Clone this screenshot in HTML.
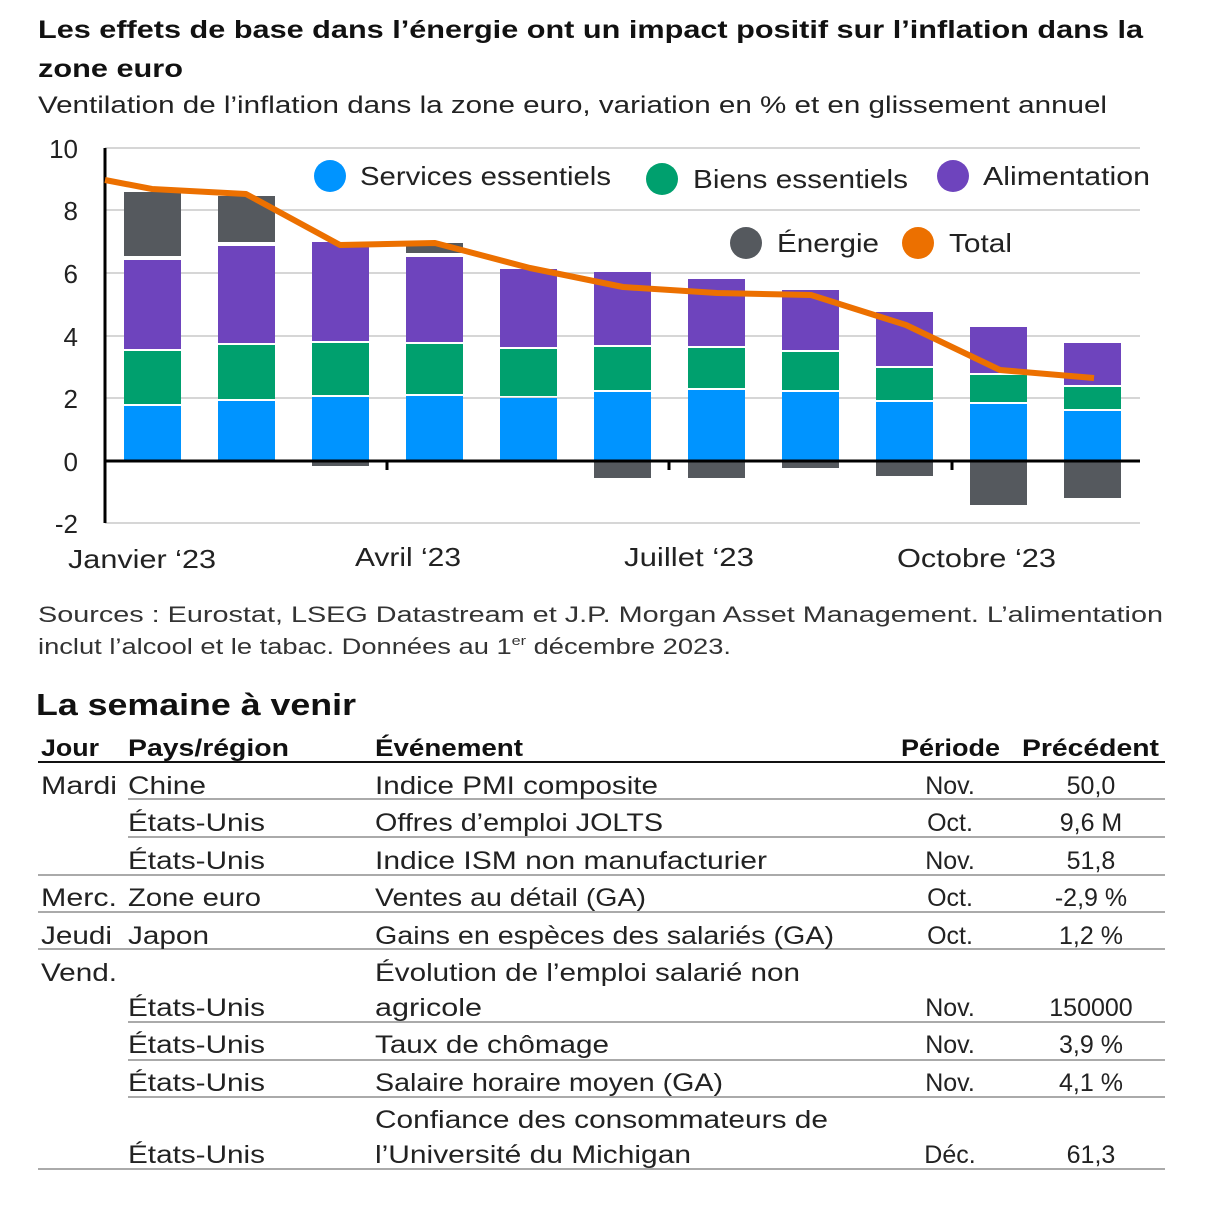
<!DOCTYPE html>
<html><head><meta charset="utf-8"><style>
body{margin:0;background:#fff;width:1205px;height:1200px;overflow:hidden;font-family:"Liberation Sans",sans-serif;color:#111}
svg text{font-family:"Liberation Sans",sans-serif}
</style></head><body>
<svg width="1205" height="1200" xmlns="http://www.w3.org/2000/svg">
<g lengthAdjust="spacingAndGlyphs">
<text x="38" y="38" font-size="25" font-weight="bold" fill="#111" textLength="1105" lengthAdjust="spacingAndGlyphs">Les effets de base dans l’énergie ont un impact positif sur l’inflation dans la</text>
<text x="38" y="77" font-size="25" font-weight="bold" fill="#111" textLength="145" lengthAdjust="spacingAndGlyphs">zone euro</text>
<text x="38" y="113" font-size="24" fill="#222" textLength="1069" lengthAdjust="spacingAndGlyphs">Ventilation de l’inflation dans la zone euro, variation en % et en glissement annuel</text>
</g>
<g stroke="#c8c8c8" stroke-width="1.5">
<line x1="105" x2="1140" y1="148" y2="148"/><line x1="105" x2="1140" y1="210" y2="210"/>
<line x1="105" x2="1140" y1="273" y2="273"/><line x1="105" x2="1140" y1="336" y2="336"/>
<line x1="105" x2="1140" y1="398" y2="398"/><line x1="105" x2="1140" y1="523" y2="523"/>
</g>
<g font-size="26" fill="#222" text-anchor="end">
<text x="78" y="158">10</text><text x="78" y="220">8</text><text x="78" y="283">6</text>
<text x="78" y="346">4</text><text x="78" y="408">2</text><text x="78" y="471">0</text><text x="78" y="533">-2</text>
</g>
<g id="bars"></g>
<line x1="105" x2="105" y1="148" y2="523" stroke="#000" stroke-width="3"/>
<line x1="105" x2="1140" y1="461" y2="461" stroke="#000" stroke-width="3"/>
<g stroke="#000" stroke-width="3"><line x1="387" x2="387" y1="461" y2="470"/><line x1="669" x2="669" y1="461" y2="470"/><line x1="952" x2="952" y1="461" y2="470"/></g>
<polyline fill="none" stroke="#ec7000" stroke-width="6" stroke-linejoin="round" points="105,180 152,189 246,194 340,245 435,243 530,268 623,287 717,293 811,295 906,325 1000,370 1094,378"/>
<g font-size="26" fill="#222">
<circle cx="330" cy="176" r="16" fill="#0094ff"/><text x="360" y="185" textLength="251" lengthAdjust="spacingAndGlyphs">Services essentiels</text>
<circle cx="662" cy="179" r="16" fill="#00a06e"/><text x="693" y="188" textLength="215" lengthAdjust="spacingAndGlyphs">Biens essentiels</text>
<circle cx="953" cy="176" r="16" fill="#6e44bd"/><text x="983" y="185" textLength="167" lengthAdjust="spacingAndGlyphs">Alimentation</text>
<circle cx="746" cy="243" r="16" fill="#55595e"/><text x="777" y="252" textLength="102" lengthAdjust="spacingAndGlyphs">Énergie</text>
<circle cx="918" cy="243" r="16" fill="#ec7000"/><text x="949" y="252" textLength="63" lengthAdjust="spacingAndGlyphs">Total</text>
</g>
<g font-size="26" fill="#222">
<text x="68" y="568" textLength="148" lengthAdjust="spacingAndGlyphs">Janvier ‘23</text><text x="355" y="566" textLength="106" lengthAdjust="spacingAndGlyphs">Avril ‘23</text>
<text x="624" y="566" textLength="130" lengthAdjust="spacingAndGlyphs">Juillet ‘23</text><text x="897" y="567" textLength="159" lengthAdjust="spacingAndGlyphs">Octobre ‘23</text>
</g>
<g font-size="22" fill="#333">
<text x="38" y="622" textLength="1125" lengthAdjust="spacingAndGlyphs">Sources : Eurostat, LSEG Datastream et J.P. Morgan Asset Management. L’alimentation</text>
<text x="38" y="654" textLength="693" lengthAdjust="spacingAndGlyphs">inclut l’alcool et le tabac. Données au 1<tspan font-size="13" dy="-9">er</tspan><tspan dy="9"> décembre 2023.</tspan></text>
</g>
<text x="36" y="715" font-size="31" font-weight="bold" fill="#111" textLength="320" lengthAdjust="spacingAndGlyphs">La semaine à venir</text>
<g font-size="24" font-weight="bold" fill="#111">
<text x="41" y="756" textLength="58" lengthAdjust="spacingAndGlyphs">Jour</text><text x="128" y="756" textLength="161" lengthAdjust="spacingAndGlyphs">Pays/région</text><text x="375" y="756" textLength="148" lengthAdjust="spacingAndGlyphs">Événement</text>
<text x="901" y="756" textLength="99" lengthAdjust="spacingAndGlyphs">Période</text><text x="1022" y="756" textLength="137" lengthAdjust="spacingAndGlyphs">Précédent</text>
</g>
<line x1="38" x2="1165" y1="762" y2="762" stroke="#111" stroke-width="2"/>
<g stroke="#aaa" stroke-width="2">
<line x1="128" x2="1165" y1="799" y2="799"/><line x1="128" x2="1165" y1="837" y2="837"/>
<line x1="38" x2="1165" y1="875" y2="875"/><line x1="38" x2="1165" y1="912" y2="912"/>
<line x1="38" x2="1165" y1="949" y2="949"/><line x1="128" x2="1165" y1="1022" y2="1022"/>
<line x1="128" x2="1165" y1="1060" y2="1060"/><line x1="128" x2="1165" y1="1097" y2="1097"/>
<line x1="38" x2="1165" y1="1169" y2="1169"/>
</g>
<g font-size="25" fill="#222">
<text x="41" y="794" textLength="76" lengthAdjust="spacingAndGlyphs">Mardi</text><text x="41" y="906" textLength="76" lengthAdjust="spacingAndGlyphs">Merc.</text><text x="41" y="944" textLength="71" lengthAdjust="spacingAndGlyphs">Jeudi</text><text x="41" y="981" textLength="76" lengthAdjust="spacingAndGlyphs">Vend.</text>
<text x="128" y="794" textLength="78" lengthAdjust="spacingAndGlyphs">Chine</text><text x="128" y="831" textLength="137" lengthAdjust="spacingAndGlyphs">États-Unis</text><text x="128" y="869" textLength="137" lengthAdjust="spacingAndGlyphs">États-Unis</text>
<text x="128" y="906" textLength="133" lengthAdjust="spacingAndGlyphs">Zone euro</text><text x="128" y="944" textLength="81" lengthAdjust="spacingAndGlyphs">Japon</text><text x="128" y="1016" textLength="137" lengthAdjust="spacingAndGlyphs">États-Unis</text>
<text x="128" y="1053" textLength="137" lengthAdjust="spacingAndGlyphs">États-Unis</text><text x="128" y="1091" textLength="137" lengthAdjust="spacingAndGlyphs">États-Unis</text><text x="128" y="1163" textLength="137" lengthAdjust="spacingAndGlyphs">États-Unis</text>
<text x="375" y="794" textLength="283" lengthAdjust="spacingAndGlyphs">Indice PMI composite</text><text x="375" y="831" textLength="288" lengthAdjust="spacingAndGlyphs">Offres d’emploi JOLTS</text>
<text x="375" y="869" textLength="392" lengthAdjust="spacingAndGlyphs">Indice ISM non manufacturier</text><text x="375" y="906" textLength="271" lengthAdjust="spacingAndGlyphs">Ventes au détail (GA)</text>
<text x="375" y="944" textLength="459" lengthAdjust="spacingAndGlyphs">Gains en espèces des salariés (GA)</text><text x="375" y="981" textLength="425" lengthAdjust="spacingAndGlyphs">Évolution de l’emploi salarié non</text>
<text x="375" y="1016" textLength="107" lengthAdjust="spacingAndGlyphs">agricole</text><text x="375" y="1053" textLength="234" lengthAdjust="spacingAndGlyphs">Taux de chômage</text><text x="375" y="1091" textLength="348" lengthAdjust="spacingAndGlyphs">Salaire horaire moyen (GA)</text>
<text x="375" y="1128" textLength="453" lengthAdjust="spacingAndGlyphs">Confiance des consommateurs de</text><text x="375" y="1163" textLength="316" lengthAdjust="spacingAndGlyphs">l’Université du Michigan</text>
</g>
<g font-size="25" fill="#222" text-anchor="middle">
<text x="950" y="794">Nov.</text><text x="950" y="831">Oct.</text><text x="950" y="869">Nov.</text><text x="950" y="906">Oct.</text>
<text x="950" y="944">Oct.</text><text x="950" y="1016">Nov.</text><text x="950" y="1053">Nov.</text><text x="950" y="1091">Nov.</text><text x="950" y="1163">Déc.</text>
<text x="1091" y="794">50,0</text><text x="1091" y="831">9,6 M</text><text x="1091" y="869">51,8</text><text x="1091" y="906">-2,9 %</text>
<text x="1091" y="944">1,2 %</text><text x="1091" y="1016">150000</text><text x="1091" y="1053">3,9 %</text><text x="1091" y="1091">4,1 %</text><text x="1091" y="1163">61,3</text>
</g>
</svg>
<script>
var d=[[404,349,258,192],[399,343,244,196],[395,341,240,466],[394,342,255,243],[396,347,267,461],[390,345,270,478],[388,346,277,478],[390,350,288,468],[400,366,310,476],[402,373,325,505],[409,385,341,498]];
var c=["#0094ff","#00a06e","#6e44bd","#55595e"],s="";
d.forEach(function(b,i){var x=124+i*94,w=57,prev=461;
for(var k=0;k<3;k++){var top=b[k],bot=(k==0?461:prev-2);s+='<rect x="'+x+'" y="'+(top+2)+'" width="'+w+'" height="'+Math.max(0,bot-top-2)+'" fill="'+c[k]+'"/>';prev=top+2;}
var e=b[3];if(e>461){s+='<rect x="'+x+'" y="462" width="'+w+'" height="'+(e-462)+'" fill="'+c[3]+'"/>';}
else if(e<b[2]){s+='<rect x="'+x+'" y="'+e+'" width="'+w+'" height="'+(b[2]-2-e)+'" fill="'+c[3]+'"/>';}
});
document.getElementById("bars").innerHTML=s;
</script>
</body></html>
